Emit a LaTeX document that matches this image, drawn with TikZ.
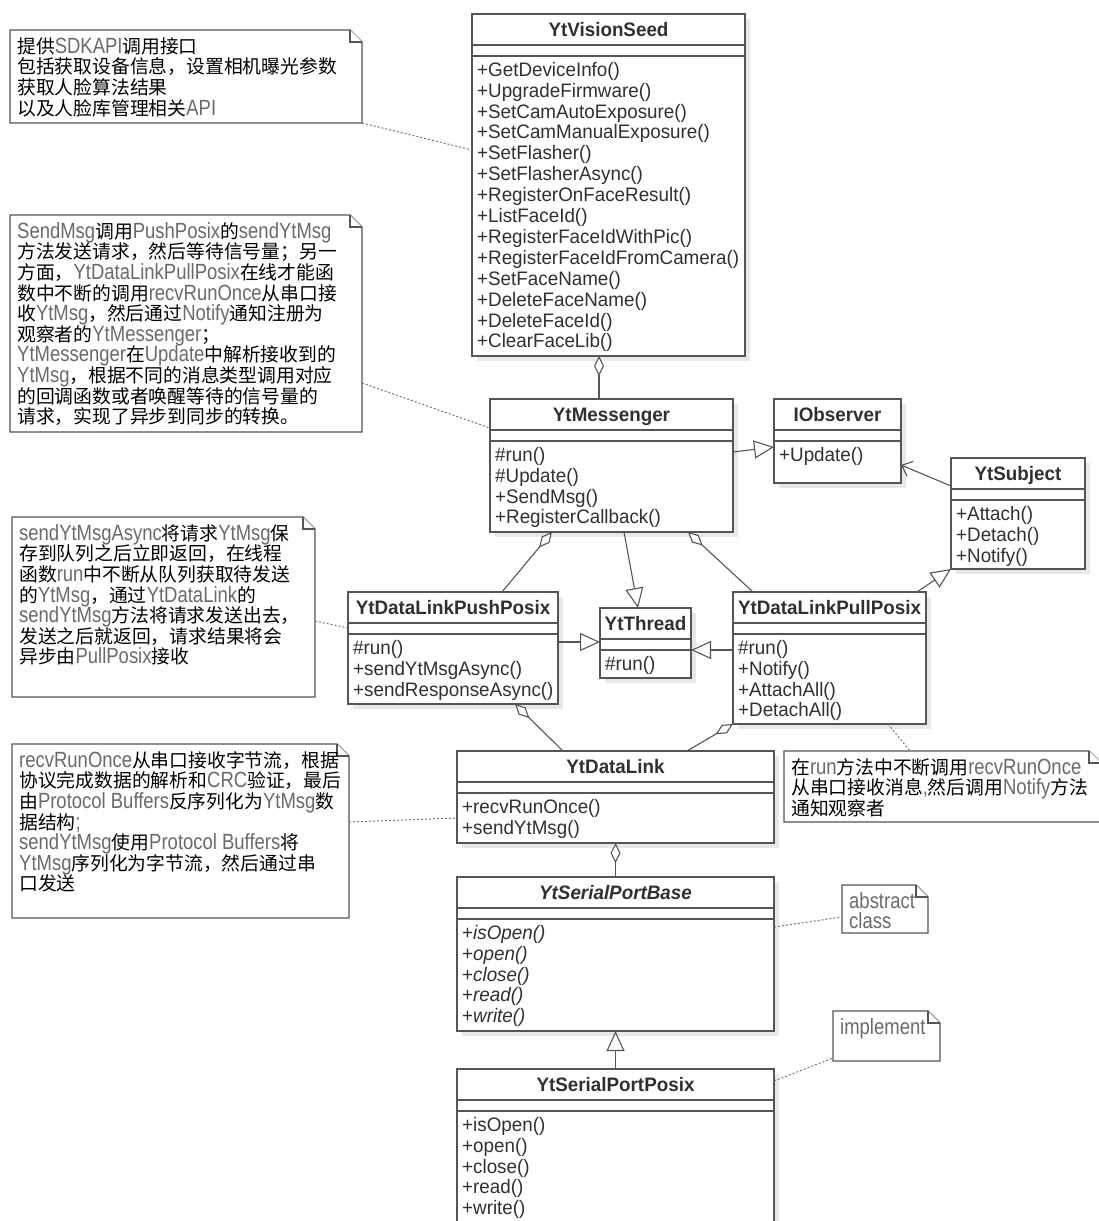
\documentclass[tikz,border=0pt]{standalone}
\usepackage{fontspec}
\setmainfont{Liberation Sans}[FakeStretch=0.965]
\newfontfamily\notelat{Liberation Sans}[FakeStretch=0.84]
\newfontfamily\cjk{Noto Sans CJK SC}
\usetikzlibrary{arrows.meta}
\usetikzlibrary{shadows}
\definecolor{umlline}{HTML}{555555}
\definecolor{umltext}{HTML}{303030}
\definecolor{notegray}{HTML}{6A6A6A}
\setlength{\lineskiplimit}{-20pt}
\newcommand{\en}[1]{{\notelat\fontsize{22}{20.6}\selectfont\color{notegray}#1}}
\newcommand{\UMLCLASS}[7]
{
    \node[classbox, minimum width={#4-#2}, minimum height={#5-#3}] (#1) at ({(#2+#4)/2},{(#3+#5)/2}) {};
    \draw[classline] (#2,#3+31) -- (#4,#3+31) (#2,#3+42) -- (#4,#3+42);
    \node[classtitle] (#1-title) at ({(#2+#4)/2},#3+22.5) {#6};
    \node[classops] (#1-ops) at (#2+5,#3+46) {\rule{0pt}{16pt}#7};
}
\newcommand{\UMLNOTE}[6]
{
    \node[notebox, minimum width={#4-#2}, minimum height={#5-#3}] (#1) at ({(#2+#4)/2},{(#3+#5)/2}) {};
    \draw[noteline] (#1.north west) -- ([xshift=-12pt]#1.north east) -- ([yshift=-12pt]#1.north east)
        -- (#1.south east) -- (#1.south west) -- cycle;
    \draw[noteline] ([xshift=-12pt]#1.north east) |- ([yshift=-12pt]#1.north east);
    \node[notetext] (#1-text) at (#2+7,#3+5) {\rule{0pt}{18pt}#6};
}
\tikzset{
  classbox/.style={
    draw=umlline,line width=1.3pt,fill=white,inner sep=0pt,outer sep=0pt,
    drop shadow={shadow xshift=5pt,shadow yshift=-5pt,fill=black!9,opacity=1},
  },
  classline/.style={draw=umlline,line width=1.3pt},
  classtitle/.style={anchor=base,inner sep=0pt,text=umltext,
    font=\fontsize{19.5}{21}\selectfont\bfseries},
  classops/.style={anchor=north west,inner sep=0pt,align=left,text=umltext,
    font=\fontsize{19.5}{20.9}\selectfont},
  notebox/.style={inner sep=0pt,outer sep=0pt},
  noteline/.style={draw=umlline,line width=1.2pt,fill=white},
  notetext/.style={anchor=north west,inner sep=0pt,align=left,text=black,
    font=\fontsize{18.8}{20.6}\selectfont\cjk},
  link/.style={draw=umlline,line width=1.1pt},
  realize/.style={link,-{Triangle[open,length=20pt,width=18pt,fill=white]}},
  aggreg/.style={link,{Diamond[open,length=20pt,width=10pt,fill=white]}-},
  assoc/.style={link,-{Straight Barb[length=9pt,width=16pt]}},
  notelink/.style={draw=umlline!80,line width=1pt,dash pattern=on 2pt off 2pt},
}
\begin{document}
\begin{tikzpicture}[x=1pt,y=-1pt]
        \fill[white] (0,0) rectangle (1099,1221);
        \useasboundingbox (0,0) rectangle (1099,1221);

        \UMLCLASS{vision}{472}{14}{745}{356}{YtVisionSeed}{+GetDeviceInfo()\\+UpgradeFirmware()\\+SetCamAutoExposure()\\+SetCamManualExposure()\\+SetFlasher()\\+SetFlasherAsync()\\+RegisterOnFaceResult()\\+ListFaceId()\\+RegisterFaceIdWithPic()\\+RegisterFaceIdFromCamera()\\+SetFaceName()\\+DeleteFaceName()\\+DeleteFaceId()\\+ClearFaceLib()}
        \UMLCLASS{msg}{490}{399}{733}{532}{YtMessenger}{\#run()\\\#Update()\\+SendMsg()\\+RegisterCallback()}
        \UMLCLASS{iobs}{774}{399}{901}{483}{IObserver}{+Update()}
        \UMLCLASS{subj}{951}{458}{1085}{569}{YtSubject}{+Attach()\\+Detach()\\+Notify()}
        \UMLCLASS{push}{348}{592}{558}{704}{YtDataLinkPushPosix}{\#run()\\+sendYtMsgAsync()\\+sendResponseAsync()}
        \UMLCLASS{thread}{600}{608}{691}{678}{YtThread}{\#run()}
        \UMLCLASS{pull}{733}{592}{926}{724}{YtDataLinkPullPosix}{\#run()\\+Notify()\\+AttachAll()\\+DetachAll()}
        \UMLCLASS{datalink}{457}{751}{774}{843}{YtDataLink}{+recvRunOnce()\\+sendYtMsg()}
        \UMLCLASS{serialbase}{457}{877}{774}{1031}{\itshape YtSerialPortBase}{+\textit{isOpen()}\\+\textit{open()}\\+\textit{close()}\\+\textit{read()}\\+\textit{write()}}
        \UMLCLASS{posix}{457}{1069}{774}{1232}{YtSerialPortPosix}{+isOpen()\\+open()\\+close()\\+read()\\+write()}

        \UMLNOTE{sdknote}{10}{30}{362}{123}{提供\en{SDKAPI}调用接口\\包括获取设备信息，设置相机曝光参数\\获取人脸算法结果\\以及人脸库管理相关\en{API}}
        \UMLNOTE{msgnote}{10}{215}{362}{432}{\en{SendMsg}调用\en{PushPosix}的\en{sendYtMsg}\\方法发送请求，然后等待信号量；另一\\方面，\en{YtDataLinkPullPosix}在线才能函\\数中不断的调用\en{recvRunOnce}从串口接\\收\en{YtMsg}，然后通过\en{Notify}通知注册为\\观察者的\en{YtMessenger}；\\\en{YtMessenger}在\en{Update}中解析接收到的\\\en{YtMsg}，根据不同的消息类型调用对应\\的回调函数或者唤醒等待的信号量的\\请求，实现了异步到同步的转换。}
        \UMLNOTE{pushnote}{12}{517}{315}{697}{\en{sendYtMsgAsync}将请求\en{YtMsg}保\\存到队列之后立即返回，在线程\\函数\en{run}中不断从队列获取待发送\\的\en{YtMsg}，通过\en{YtDataLink}的\\\en{sendYtMsg}方法将请求发送出去，\\发送之后就返回，请求结果将会\\异步由\en{PullPosix}接收}
        \UMLNOTE{linknote}{12}{744}{349}{918}{\en{recvRunOnce}从串口接收字节流，根据\\协议完成数据的解析和\en{CRC}验证，最后\\由\en{Protocol Buffers}反序列化为\en{YtMsg}数\\据结构\en{;}\\\en{sendYtMsg}使用\en{Protocol Buffers}将\\\en{YtMsg}序列化为字节流，然后通过串\\口发送}
        \UMLNOTE{pullnote}{784}{751}{1101}{822}{在\en{run}方法中不断调用\en{recvRunOnce}\\从串口接收消息\en{,}然后调用\en{Notify}方法\\通知观察者}
        \UMLNOTE{absnote}{842}{885}{928}{933}{\en{abstract}\\\en{class}}
        \UMLNOTE{implnote}{833}{1011}{940}{1061}{\en{implement}}

        \draw[aggreg] (vision.south -| 599,0) -- (msg.north -| 599,0);
        \draw[realize] (msg.east |- 0,452) -- (iobs.west |- 0,447);
        \draw[assoc] (subj.west |- 0,486) -- (iobs.east |- 0,465);
        \draw[aggreg] (msg.south -| 552,0) -- (push.north -| 502,0);
        \draw[realize] (msg.south -| 624,0) -- (thread.north -| 638,0);
        \draw[aggreg] (msg.south -| 688,0) -- (pull.north -| 753,0);
        \draw[realize] (push.east |- 0,642) -- (thread.west |- 0,642);
        \draw[realize] (pull.west |- 0,650) -- (thread.east |- 0,650);
        \draw[realize] (pull.north -| 917,0) -- (subj.south west);
        \draw[aggreg] (push.south -| 515,0) -- (datalink.north -| 563,0);
        \draw[aggreg] (pull.south west) -- (datalink.north -| 687,0);
        \draw[aggreg] (datalink.south) -- (serialbase.north);
        \draw[realize] (posix.north) -- (serialbase.south);

        \draw[notelink] (sdknote.south east) -- (vision.west |- 0,150);
        \draw[notelink] (msgnote.east |- 0,383) -- (msg.west |- 0,428);
        \draw[notelink] (pushnote.east |- 0,621) -- (push.west |- 0,628);
        \draw[notelink] (linknote.east |- 0,822) -- (datalink.west |- 0,818);
        \draw[notelink] (pull.south -| 888,0) -- (pullnote.north -| 910,0);
        \draw[notelink] (serialbase.east |- 0,927) -- (absnote.west |- 0,917);
        \draw[notelink] (posix.east |- 0,1081) -- (implnote.west |- 0,1058);
\end{tikzpicture}
\end{document}
